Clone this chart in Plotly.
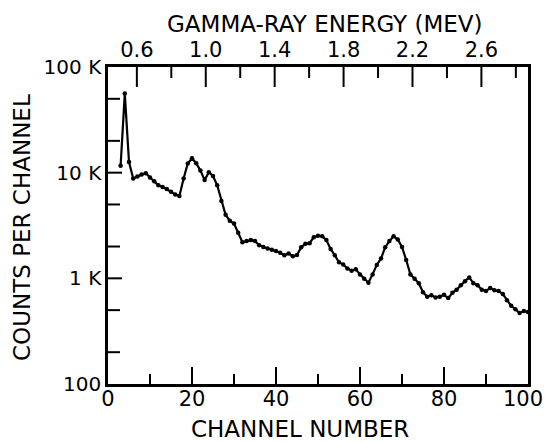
import plotly.graph_objects as go

# ---- data ----
channels = list(range(3, 101))
counts = [
    11600, 56000, 12600, 8800, 9200, 9600, 9900, 9000, 8300, 7600,    # 3-12
    7300, 7000, 6600, 6200, 6000, 8800, 12200, 13700, 12300, 10500,   # 13-22
    8500, 10100, 9300, 7600, 5400, 4000, 3500, 3300, 2700, 2200,      # 23-32
    2250, 2300, 2250, 2060, 1980, 1920, 1860, 1810, 1750, 1650,       # 33-42
    1720, 1620, 1660, 1970, 2120, 2150, 2450, 2530, 2500, 2300,       # 43-52
    1900, 1650, 1420, 1350, 1240, 1180, 1220, 1090, 990, 910,         # 53-62
    1090, 1340, 1540, 1970, 2250, 2500, 2330, 1980, 1490, 1090,       # 63-72
    990, 900, 740, 670, 690, 660, 670, 700, 650, 730,                 # 73-82
    780, 860, 940, 1020, 900, 860, 780, 760, 810, 770,                # 83-92
    760, 710, 620, 550, 510, 470, 490, 480,                           # 93-100
]

# ---- ticks and tick labels ----
y_tickvals = [100, 1000, 10000, 100000]
y_ticktext = ["100", "1 K", "10 K", "100 K"]
y_major_marks = [1000, 10000]
y_minor_marks = [200, 500, 2000, 5000, 20000, 50000]

x_tickvals = [0, 20, 40, 60, 80]
x_ticktext = ["0", "20", "40", "60", "80"]
x_last_label = "100"
x_major_marks = [20, 40, 60, 80]
x_minor_marks = [10, 30, 50, 70, 90]

e_tickvals = [0.6, 1.0, 1.4, 1.8, 2.2, 2.6]
e_ticktext = ["0.6", "1.0", "1.4", "1.8", "2.2", "2.6"]
e_minor_marks = [0.8, 1.2, 1.6, 2.0, 2.4, 2.8]
e_range = [0.4325, 2.8705]   # energy at channel 0 and channel 100

X_RANGE = [0, 100]
Y_LOG_RANGE = [2, 5]

FONT = "DejaVu Sans"
W, H = 545, 442
L, R, T, B = 108, 17, 67, 58
pw, ph = W - L - R, H - T - B
px_per_decade = ph / (Y_LOG_RANGE[1] - Y_LOG_RANGE[0])
px_per_channel = pw / (X_RANGE[1] - X_RANGE[0])
y_bot, y_top = 10 ** Y_LOG_RANGE[0], 10 ** Y_LOG_RANGE[1]

fig = go.Figure()
fig.add_trace(go.Scatter(
    x=channels, y=counts, mode="lines+markers",
    line=dict(color="black", width=2.2),
    marker=dict(color="black", size=4.5),
    showlegend=False, hoverinfo="skip",
))


# ---- tick marks drawn inside the frame as line traces ----
def tick_trace(xs_pairs, ys_pairs, xaxis="x"):
    xs, ys = [], []
    for (xa, xb), (ya, yb) in zip(xs_pairs, ys_pairs):
        xs += [xa, xb, None]
        ys += [ya, yb, None]
    return go.Scatter(x=xs, y=ys, xaxis=xaxis, yaxis="y", mode="lines",
                      line=dict(color="black", width=2), cliponaxis=False,
                      showlegend=False, hoverinfo="skip")


def up(n_px):
    return 10 ** (n_px / px_per_decade)


for marks, ln in ((x_major_marks, 17), (x_minor_marks, 10)):
    fig.add_trace(tick_trace([(v, v) for v in marks],
                             [(y_bot, y_bot * up(ln)) for _ in marks]))
for marks, ln in ((e_tickvals, 20), (e_minor_marks, 11)):
    fig.add_trace(tick_trace([(v, v) for v in marks],
                             [(y_top, y_top / up(ln)) for _ in marks], xaxis="x2"))
for marks, ln in ((y_major_marks, 14), (y_minor_marks, 12)):
    fig.add_trace(tick_trace([(X_RANGE[0], X_RANGE[0] + ln / px_per_channel) for _ in marks],
                             [(v, v) for v in marks]))

fig.update_layout(
    width=W, height=H,
    margin=dict(l=L, r=R, t=T, b=B),
    paper_bgcolor="white", plot_bgcolor="white",
    font=dict(family=FONT, size=20, color="black"),
    xaxis=dict(
        range=X_RANGE, showgrid=False, zeroline=False, automargin=False,
        showline=True, linecolor="black", linewidth=2.5, mirror=True,
        ticks="", tickvals=x_tickvals, ticktext=x_ticktext,
        ticklabelstandoff=-6,
        tickfont=dict(size=21),
    ),
    xaxis2=dict(
        overlaying="x", side="top", range=e_range, automargin=False,
        showgrid=False, zeroline=False, showline=False,
        ticks="", tickvals=e_tickvals, ticktext=e_ticktext,
        ticklabelstandoff=5,
        tickfont=dict(size=21),
    ),
    yaxis=dict(
        type="log", range=Y_LOG_RANGE, showgrid=False, zeroline=False,
        automargin=False,
        showline=True, linecolor="black", linewidth=2.5, mirror=True,
        ticks="", tickvals=y_tickvals, ticktext=y_ticktext,
        tickfont=dict(size=20),
    ),
)


def px_ann(text, x, y, size, angle=0, xanchor="center"):
    return dict(text=text, xref="paper", yref="paper",
                x=(x - L) / pw, y=1 - (y - T) / ph,
                xanchor=xanchor, yanchor="middle",
                textangle=angle, showarrow=False,
                font=dict(family=FONT, size=size, color="black"))


fig.update_layout(annotations=[
    px_ann(x_last_label, 523, 399, 21),
    px_ann("CHANNEL NUMBER", 300, 429, 23),
    px_ann("GAMMA-RAY ENERGY (MEV)", 324, 24, 23),
    px_ann("COUNTS PER CHANNEL", 22, 228, 23, -90),
])

fig.write_html("out.html")
